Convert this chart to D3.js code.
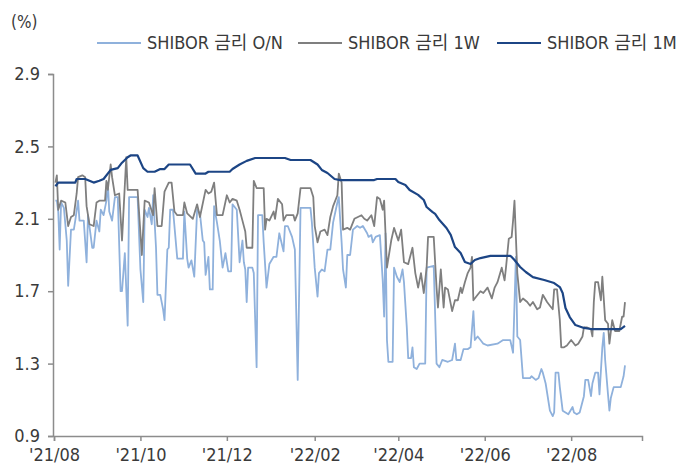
<!DOCTYPE html>
<html>
<head>
<meta charset="utf-8">
<script src="https://cdn.jsdelivr.net/npm/d3@7"></script>
<style>
  html, body { margin: 0; padding: 0; background: #fff; }
  svg text { font-family: "Liberation Sans Narrow", "DejaVu Sans Condensed", "Noto Sans CJK KR", sans-serif; fill: #3a3a3a; }
</style>
</head>
<body>
<svg id="chart" width="678" height="468"></svg>
<script>
// SHIBOR O/N
const shiborON = [
  ["2021-08-02", 2.20], ["2021-08-03", 2.20], ["2021-08-04", 2.14], ["2021-08-05", 1.93],
  ["2021-08-06", 2.19], ["2021-08-08", 2.16], ["2021-08-10", 1.98], ["2021-08-11", 1.73],
  ["2021-08-13", 2.04], ["2021-08-15", 2.04], ["2021-08-16", 2.09], ["2021-08-18", 2.20],
  ["2021-08-19", 2.09], ["2021-08-22", 2.09], ["2021-08-24", 1.86], ["2021-08-25", 2.12],
  ["2021-08-26", 2.06], ["2021-08-28", 1.94], ["2021-08-29", 1.94], ["2021-08-31", 2.09],
  ["2021-09-02", 2.03], ["2021-09-03", 2.15], ["2021-09-05", 2.12], ["2021-09-07", 2.20],
  ["2021-09-08", 2.30], ["2021-09-09", 2.14], ["2021-09-11", 2.09], ["2021-09-13", 2.22],
  ["2021-09-15", 2.22], ["2021-09-17", 1.70], ["2021-09-18", 1.70], ["2021-09-20", 1.91],
  ["2021-09-22", 1.51], ["2021-09-23", 2.22], ["2021-09-29", 2.22], ["2021-10-01", 1.82],
  ["2021-10-03", 1.64], ["2021-10-04", 2.15], ["2021-10-06", 2.11], ["2021-10-07", 2.16],
  ["2021-10-09", 2.07], ["2021-10-10", 2.23], ["2021-10-12", 1.94], ["2021-10-13", 1.68],
  ["2021-10-15", 1.68], ["2021-10-17", 1.60], ["2021-10-18", 1.54], ["2021-10-20", 1.93],
  ["2021-10-21", 1.94], ["2021-10-22", 2.15], ["2021-10-24", 2.15], ["2021-10-27", 1.88],
  ["2021-10-31", 1.88], ["2021-11-01", 2.14], ["2021-11-03", 1.88], ["2021-11-04", 1.83],
  ["2021-11-06", 1.87], ["2021-11-08", 1.78], ["2021-11-10", 2.15], ["2021-11-12", 2.13],
  ["2021-11-14", 1.98], ["2021-11-15", 1.97], ["2021-11-16", 1.79], ["2021-11-18", 1.89],
  ["2021-11-19", 1.71], ["2021-11-21", 1.71], ["2021-11-22", 2.17], ["2021-11-24", 2.08],
  ["2021-11-26", 1.98], ["2021-11-28", 1.83], ["2021-11-30", 1.91], ["2021-12-02", 1.81],
  ["2021-12-04", 1.81], ["2021-12-05", 2.18], ["2021-12-08", 2.15], ["2021-12-10", 1.86],
  ["2021-12-12", 1.98], ["2021-12-13", 1.86], ["2021-12-14", 1.82], ["2021-12-15", 1.64],
  ["2021-12-16", 1.83], ["2021-12-19", 1.83], ["2021-12-20", 1.80], ["2021-12-22", 1.28],
  ["2021-12-23", 2.12], ["2021-12-26", 2.12], ["2021-12-27", 1.97], ["2021-12-29", 1.72],
  ["2021-12-31", 1.85], ["2022-01-03", 1.89], ["2022-01-05", 1.89], ["2022-01-07", 2.02],
  ["2022-01-10", 1.92], ["2022-01-11", 2.06], ["2022-01-13", 2.06], ["2022-01-16", 2.00],
  ["2022-01-18", 1.93], ["2022-01-20", 1.21], ["2022-01-22", 2.16], ["2022-01-29", 2.16],
  ["2022-01-30", 2.08], ["2022-02-01", 1.83], ["2022-02-03", 1.67], ["2022-02-04", 1.80],
  ["2022-02-06", 1.82], ["2022-02-08", 1.81], ["2022-02-10", 1.93], ["2022-02-12", 1.93],
  ["2022-02-14", 2.08], ["2022-02-17", 2.19], ["2022-02-18", 2.22], ["2022-02-20", 1.97],
  ["2022-02-21", 1.82], ["2022-02-23", 1.72], ["2022-02-24", 1.90], ["2022-02-26", 1.90],
  ["2022-02-28", 2.04], ["2022-03-03", 2.06], ["2022-03-05", 2.05], ["2022-03-07", 2.06],
  ["2022-03-10", 2.02], ["2022-03-11", 2.00], ["2022-03-13", 2.01], ["2022-03-14", 1.97],
  ["2022-03-16", 2.00], ["2022-03-19", 2.01], ["2022-03-21", 1.76], ["2022-03-22", 1.56],
  ["2022-03-23", 2.02], ["2022-03-24", 1.43], ["2022-03-25", 1.31], ["2022-03-28", 1.31],
  ["2022-03-29", 1.83], ["2022-03-31", 1.78], ["2022-04-02", 1.75], ["2022-04-04", 1.82],
  ["2022-04-05", 1.75], ["2022-04-07", 1.50], ["2022-04-08", 1.33], ["2022-04-10", 1.33],
  ["2022-04-11", 1.39], ["2022-04-12", 1.28], ["2022-04-14", 1.27], ["2022-04-16", 1.30],
  ["2022-04-17", 1.30], ["2022-04-20", 1.30], ["2022-04-21", 1.83], ["2022-04-26", 1.84],
  ["2022-04-28", 1.30], ["2022-04-30", 1.28], ["2022-05-02", 1.32], ["2022-05-06", 1.31],
  ["2022-05-09", 1.32], ["2022-05-11", 1.41], ["2022-05-12", 1.32], ["2022-05-15", 1.32],
  ["2022-05-17", 1.38], ["2022-05-20", 1.38], ["2022-05-22", 1.39], ["2022-05-24", 1.59],
  ["2022-05-25", 1.43], ["2022-05-27", 1.45], ["2022-05-29", 1.43], ["2022-05-31", 1.41],
  ["2022-06-03", 1.40], ["2022-06-10", 1.41], ["2022-06-14", 1.43], ["2022-06-19", 1.43],
  ["2022-06-21", 1.36], ["2022-06-23", 1.89], ["2022-06-24", 1.45], ["2022-06-26", 1.43],
  ["2022-06-28", 1.22], ["2022-07-01", 1.22], ["2022-07-03", 1.22], ["2022-07-04", 1.23],
  ["2022-07-07", 1.21], ["2022-07-09", 1.22], ["2022-07-11", 1.27], ["2022-07-12", 1.25],
  ["2022-07-14", 1.19], ["2022-07-17", 1.04], ["2022-07-19", 1.01], ["2022-07-20", 1.03],
  ["2022-07-21", 1.25], ["2022-07-23", 1.25], ["2022-07-24", 1.17], ["2022-07-26", 1.04],
  ["2022-07-28", 1.03], ["2022-07-30", 1.02], ["2022-08-02", 1.06], ["2022-08-03", 1.03],
  ["2022-08-05", 1.02], ["2022-08-07", 1.03], ["2022-08-10", 1.12], ["2022-08-11", 1.21],
  ["2022-08-13", 1.21], ["2022-08-15", 1.12], ["2022-08-16", 1.19], ["2022-08-18", 1.25],
  ["2022-08-20", 1.25], ["2022-08-21", 1.13], ["2022-08-23", 1.39], ["2022-08-24", 1.47],
  ["2022-08-25", 1.32], ["2022-08-27", 1.13], ["2022-08-28", 1.04], ["2022-08-29", 1.11],
  ["2022-08-31", 1.17], ["2022-09-02", 1.17], ["2022-09-05", 1.17], ["2022-09-07", 1.23],
  ["2022-09-08", 1.29]
];

// SHIBOR 1W
const shibor1W = [
  ["2021-08-02", 2.30], ["2021-08-03", 2.34], ["2021-08-04", 2.15], ["2021-08-06", 2.20],
  ["2021-08-09", 2.19], ["2021-08-11", 2.06], ["2021-08-13", 2.11], ["2021-08-15", 2.12],
  ["2021-08-17", 2.24], ["2021-08-18", 2.33], ["2021-08-21", 2.34], ["2021-08-23", 2.33],
  ["2021-08-24", 2.17], ["2021-08-26", 2.07], ["2021-08-29", 2.06], ["2021-08-31", 2.19],
  ["2021-09-02", 2.20], ["2021-09-06", 2.20], ["2021-09-07", 2.31], ["2021-09-08", 2.26],
  ["2021-09-10", 2.40], ["2021-09-11", 2.33], ["2021-09-13", 2.23], ["2021-09-16", 2.24],
  ["2021-09-18", 1.98], ["2021-09-21", 2.44], ["2021-09-22", 2.26], ["2021-09-29", 2.26],
  ["2021-10-02", 1.90], ["2021-10-04", 2.20], ["2021-10-07", 2.19], ["2021-10-10", 2.12],
  ["2021-10-11", 2.27], ["2021-10-13", 2.06], ["2021-10-16", 2.06], ["2021-10-18", 2.25],
  ["2021-10-21", 2.30], ["2021-10-23", 2.30], ["2021-10-25", 2.14], ["2021-10-27", 2.12],
  ["2021-10-31", 2.12], ["2021-11-01", 2.19], ["2021-11-03", 2.13], ["2021-11-07", 2.10],
  ["2021-11-10", 2.18], ["2021-11-12", 2.11], ["2021-11-16", 2.26], ["2021-11-18", 2.24],
  ["2021-11-20", 2.25], ["2021-11-22", 2.30], ["2021-11-24", 2.12], ["2021-11-28", 2.12],
  ["2021-12-01", 2.23], ["2021-12-03", 2.19], ["2021-12-05", 2.21], ["2021-12-08", 2.20],
  ["2021-12-10", 2.15], ["2021-12-12", 2.09], ["2021-12-14", 2.03], ["2021-12-15", 1.94],
  ["2021-12-19", 1.94], ["2021-12-20", 2.31], ["2021-12-22", 2.27], ["2021-12-27", 2.27],
  ["2021-12-28", 2.04], ["2021-12-29", 2.10], ["2021-12-31", 2.09], ["2022-01-03", 2.14],
  ["2022-01-04", 2.10], ["2022-01-06", 2.21], ["2022-01-09", 2.18], ["2022-01-10", 2.09],
  ["2022-01-12", 2.12], ["2022-01-17", 2.12], ["2022-01-18", 2.09], ["2022-01-20", 2.13],
  ["2022-01-22", 2.27], ["2022-01-29", 2.27], ["2022-01-31", 2.22], ["2022-02-01", 2.06],
  ["2022-02-03", 1.97], ["2022-02-05", 2.03], ["2022-02-08", 2.04], ["2022-02-10", 2.01],
  ["2022-02-12", 2.11], ["2022-02-14", 2.17], ["2022-02-17", 2.23], ["2022-02-18", 2.35],
  ["2022-02-20", 2.30], ["2022-02-21", 2.04], ["2022-02-24", 2.05], ["2022-02-26", 2.04],
  ["2022-03-01", 2.10], ["2022-03-06", 2.12], ["2022-03-08", 2.10], ["2022-03-10", 2.09],
  ["2022-03-13", 2.12], ["2022-03-15", 2.06], ["2022-03-17", 2.22], ["2022-03-19", 2.21],
  ["2022-03-21", 2.15], ["2022-03-22", 2.20], ["2022-03-24", 1.83], ["2022-03-27", 1.98],
  ["2022-03-29", 2.05], ["2022-04-01", 1.98], ["2022-04-03", 2.04], ["2022-04-05", 1.86],
  ["2022-04-08", 1.85], ["2022-04-11", 1.94], ["2022-04-13", 1.80], ["2022-04-15", 1.72],
  ["2022-04-17", 1.80], ["2022-04-19", 1.69], ["2022-04-21", 1.83], ["2022-04-22", 2.00],
  ["2022-04-26", 2.00], ["2022-04-28", 1.72], ["2022-04-29", 1.61], ["2022-05-01", 1.82],
  ["2022-05-03", 1.61], ["2022-05-04", 1.72], ["2022-05-06", 1.71], ["2022-05-09", 1.59],
  ["2022-05-11", 1.65], ["2022-05-13", 1.65], ["2022-05-15", 1.72], ["2022-05-16", 1.69],
  ["2022-05-18", 1.75], ["2022-05-20", 1.80], ["2022-05-22", 1.83], ["2022-05-23", 1.89],
  ["2022-05-24", 1.65], ["2022-05-27", 1.68], ["2022-05-29", 1.70], ["2022-05-31", 1.69],
  ["2022-06-03", 1.72], ["2022-06-06", 1.66], ["2022-06-08", 1.72], ["2022-06-10", 1.75],
  ["2022-06-13", 1.83], ["2022-06-15", 1.76], ["2022-06-16", 1.83], ["2022-06-18", 1.99],
  ["2022-06-20", 2.00], ["2022-06-21", 2.09], ["2022-06-22", 2.20], ["2022-06-24", 1.80],
  ["2022-06-26", 1.64], ["2022-06-28", 1.66], ["2022-07-01", 1.64], ["2022-07-03", 1.62],
  ["2022-07-05", 1.64], ["2022-07-08", 1.60], ["2022-07-10", 1.61], ["2022-07-12", 1.68],
  ["2022-07-15", 1.64], ["2022-07-17", 1.62], ["2022-07-19", 1.60], ["2022-07-20", 1.71],
  ["2022-07-22", 1.71], ["2022-07-24", 1.54], ["2022-07-25", 1.39], ["2022-07-27", 1.39],
  ["2022-07-29", 1.40], ["2022-08-01", 1.43], ["2022-08-04", 1.40], ["2022-08-06", 1.41],
  ["2022-08-09", 1.45], ["2022-08-10", 1.50], ["2022-08-12", 1.50], ["2022-08-15", 1.49],
  ["2022-08-16", 1.45], ["2022-08-17", 1.64], ["2022-08-18", 1.75], ["2022-08-20", 1.75],
  ["2022-08-22", 1.65], ["2022-08-23", 1.78], ["2022-08-25", 1.54], ["2022-08-27", 1.52],
  ["2022-08-28", 1.41], ["2022-08-30", 1.54], ["2022-09-01", 1.48], ["2022-09-04", 1.48],
  ["2022-09-06", 1.56], ["2022-09-07", 1.56], ["2022-09-08", 1.64]
];

// SHIBOR 1M
const shibor1M = [
  ["2021-08-02", 2.28], ["2021-08-04", 2.30], ["2021-08-16", 2.30], ["2021-08-17", 2.32],
  ["2021-08-23", 2.32], ["2021-08-26", 2.31], ["2021-08-29", 2.30], ["2021-09-02", 2.31],
  ["2021-09-05", 2.32], ["2021-09-10", 2.37], ["2021-09-15", 2.38], ["2021-09-18", 2.41],
  ["2021-09-22", 2.44], ["2021-09-24", 2.45], ["2021-09-29", 2.45], ["2021-10-03", 2.38],
  ["2021-10-06", 2.36], ["2021-10-11", 2.36], ["2021-10-15", 2.375], ["2021-10-18", 2.375],
  ["2021-10-21", 2.40], ["2021-11-05", 2.40], ["2021-11-09", 2.35], ["2021-11-16", 2.35],
  ["2021-11-18", 2.36], ["2021-12-03", 2.36], ["2021-12-05", 2.375], ["2021-12-10", 2.40],
  ["2021-12-15", 2.42], ["2021-12-21", 2.436], ["2022-01-11", 2.436], ["2022-01-15", 2.425],
  ["2022-01-29", 2.425], ["2022-02-03", 2.40], ["2022-02-06", 2.37], ["2022-02-10", 2.353],
  ["2022-02-15", 2.32], ["2022-02-19", 2.314], ["2022-03-15", 2.314], ["2022-03-17", 2.32],
  ["2022-03-30", 2.32], ["2022-04-01", 2.303], ["2022-04-06", 2.287], ["2022-04-09", 2.259],
  ["2022-04-15", 2.232], ["2022-04-19", 2.204], ["2022-04-21", 2.165], ["2022-04-25", 2.138],
  ["2022-04-27", 2.127], ["2022-04-30", 2.093], ["2022-05-05", 2.049], ["2022-05-08", 2.011],
  ["2022-05-11", 1.944], ["2022-05-15", 1.911], ["2022-05-18", 1.861], ["2022-05-22", 1.85],
  ["2022-05-25", 1.872], ["2022-05-29", 1.883], ["2022-06-05", 1.895], ["2022-06-19", 1.895],
  ["2022-06-20", 1.889], ["2022-06-22", 1.872], ["2022-06-26", 1.834], ["2022-06-30", 1.806],
  ["2022-07-05", 1.778], ["2022-07-13", 1.762], ["2022-07-20", 1.745], ["2022-07-24", 1.723],
  ["2022-07-26", 1.69], ["2022-07-28", 1.607], ["2022-07-31", 1.557], ["2022-08-04", 1.513],
  ["2022-08-10", 1.497], ["2022-08-15", 1.491], ["2022-09-05", 1.491], ["2022-09-08", 1.508]
];

const seriesNames = ["SHIBOR 금리 O/N", "SHIBOR 금리 1W", "SHIBOR 금리 1M"];
const seriesColors = ["#8fb1dc", "#7f7f7f", "#1c4585"];
const yTicks = [0.9, 1.3, 1.7, 2.1, 2.5, 2.9];
const xTickDates = ["2021-08-01", "2021-10-01", "2021-12-01", "2022-02-01", "2022-04-01", "2022-06-01", "2022-08-01"];
const xTickLabels = ["'21/08", "'21/10", "'21/12", "'22/02", "'22/04", "'22/06", "'22/08"];

const parse = d3.timeParse("%Y-%m-%d");
const svg = d3.select("#chart");

const x = d3.scaleTime()
  .domain([parse("2021-08-01"), parse("2022-09-20")])
  .range([54, 642]);
const y = d3.scaleLinear().domain([0.9, 2.9]).range([436, 74]);

const axisColor = "#8c8c8c";

// y axis
const yAxis = svg.append("g")
  .attr("transform", "translate(53,0)")
  .call(d3.axisLeft(y).tickValues(yTicks).tickSize(5).tickPadding(8).tickFormat(d3.format(".1f")));
yAxis.select(".domain").attr("stroke", axisColor).attr("stroke-width", 1.5);
yAxis.selectAll(".tick line").attr("stroke", axisColor).attr("stroke-width", 1.5);
yAxis.selectAll(".tick text").attr("font-size", 18).attr("fill", "#3a3a3a");

// x axis
const xAxis = svg.append("g")
  .attr("transform", "translate(0,436)")
  .call(d3.axisBottom(x)
    .tickValues(xTickDates.map(parse))
    .tickSize(5).tickPadding(7)
    .tickFormat((d, i) => xTickLabels[i]));
xAxis.select(".domain").attr("stroke", axisColor).attr("stroke-width", 1.5);
xAxis.selectAll(".tick line").attr("stroke", axisColor).attr("stroke-width", 1.5);
xAxis.selectAll(".tick text").attr("font-size", 18).attr("fill", "#3a3a3a");

// lines
const line = d3.line()
  .x(d => x(parse(d[0])))
  .y(d => y(d[1]));

[shiborON, shibor1W, shibor1M].forEach((s, i) => {
  svg.append("path")
    .datum(s)
    .attr("fill", "none")
    .attr("stroke", seriesColors[i])
    .attr("stroke-width", i === 2 ? 2.2 : 1.8)
    .attr("stroke-linejoin", "round")
    .attr("d", line);
});

// unit label
svg.append("text")
  .attr("x", 11).attr("y", 28)
  .attr("font-size", 17)
  .text("(%)");

// legend
const legendX = [97, 298, 497];
seriesNames.forEach((name, i) => {
  const lg = svg.append("g").attr("transform", `translate(${legendX[i]},43)`);
  lg.append("line")
    .attr("x1", 0).attr("x2", 44)
    .attr("stroke", seriesColors[i])
    .attr("stroke-width", 2);
  lg.append("text")
    .attr("x", 50).attr("y", 6)
    .attr("font-size", 18)
    .text(name);
});
</script>
</body>
</html>
